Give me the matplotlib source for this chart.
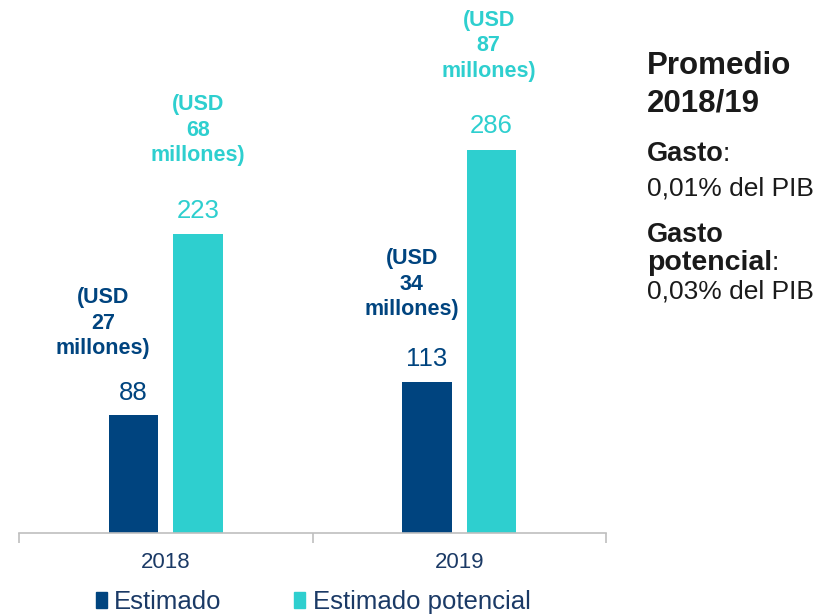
import matplotlib
matplotlib.use("Agg")
import matplotlib.pyplot as plt
from matplotlib.patches import Patch

plt.rcParams['font.family'] = ['Liberation Sans', 'DejaVu Sans']

years = ["2018", "2019"]
estimado = [88, 113]
potencial = [223, 286]
usd_estimado = [27, 34]
usd_potencial = [68, 87]
series_names = ["Estimado", "Estimado potencial"]

c_dark = "#00447F"
c_cyan = "#2ECFCF"
c_text = "#1B3A66"

fig = plt.figure(figsize=(8.25, 6.14), dpi=100)
ax = fig.add_axes([19/825, 1-533/614, (606-19)/825, 509/614])
ax.set_xlim(-0.5, 1.5)
ax.set_ylim(0, 380)

x = list(range(len(years)))
w = 0.17
off = 0.11
xe = [i - off for i in x]
xp = [i + off for i in x]
ax.bar(xe, estimado, width=w, color=c_dark)
ax.bar(xp, potencial, width=w, color=c_cyan)

# value labels
for xi, v in zip(xe, estimado):
    ax.annotate(str(v), xy=(xi, v), xytext=(0, 16), textcoords='offset points',
                ha='center', va='center', fontsize=18.5, color=c_dark)
for xi, v in zip(xp, potencial):
    ax.annotate(str(v), xy=(xi, v), xytext=(0, 17), textcoords='offset points',
                ha='center', va='center', fontsize=18.5, color=c_cyan)

# USD labels
shift_e = [(-22, 66), (-11, 70)]
shift_p = [(0, 75), (-2, 75)]
for xi, v, u, s in zip(xe, estimado, usd_estimado, shift_e):
    ax.annotate(f"(USD\n{u}\nmillones)", xy=(xi, v), xytext=s, textcoords='offset points',
                ha='center', va='center', fontsize=15.5, fontweight='bold', color=c_dark,
                linespacing=1.28)
for xi, v, u, s in zip(xp, potencial, usd_potencial, shift_p):
    ax.annotate(f"(USD\n{u}\nmillones)", xy=(xi, v), xytext=s, textcoords='offset points',
                ha='center', va='center', fontsize=15.5, fontweight='bold', color=c_cyan,
                linespacing=1.28)

for sp in ['top', 'right', 'left']:
    ax.spines[sp].set_visible(False)
ax.spines['bottom'].set_color('#BFBFBF')
ax.spines['bottom'].set_linewidth(1.2)
ax.set_yticks([])
ax.set_xticks(x)
ax.set_xticklabels(years, fontsize=16, color=c_text)
ax.tick_params(axis='x', which='major', length=0, pad=14)
ax.set_xticks([-0.5, 0.5, 1.5], minor=True)
ax.tick_params(axis='x', which='minor', length=7, width=1.2, color='#BFBFBF', direction='out')

# legend
handles = [Patch(color=c_dark), Patch(color=c_cyan)]
fig.legend(handles, series_names, loc='center', bbox_to_anchor=(313/825, 1-602/614),
           ncol=2, frameon=False, fontsize=18.5, handlelength=0.43, handleheight=0.55,
           handletextpad=0.3, columnspacing=2.8, labelcolor=c_text,
           borderpad=0, borderaxespad=0)

# right panel
tc = "#1A1A1A"
px = 647/825
fig.text(px, 1-74/614, "Promedio", fontsize=22.5, fontweight='bold',
         color=tc, va='baseline', ha='left')
fig.text(px, 1-112/614, "2018/19", fontsize=22.5, fontweight='bold',
         color=tc, va='baseline', ha='left')
t1 = fig.text(px, 1-161/614, "Gasto", fontsize=19.5, fontweight='bold', color=tc,
              va='baseline', ha='left')
fig.text(px, 1-196/614, "0,01% del PIB", fontsize=19, color=tc, va='baseline', ha='left')
fig.text(px, 1-242/614, "Gasto", fontsize=19.5, fontweight='bold', color=tc,
         va='baseline', ha='left')
t2 = fig.text(px, 1-270/614, "potencial", fontsize=20.5, fontweight='bold', color=tc,
              va='baseline', ha='left')
fig.text(px, 1-298/614, "0,03% del PIB", fontsize=19, color=tc, va='baseline', ha='left')
fig.canvas.draw()
for t in (t1, t2):
    bb = t.get_window_extent()
    fig.text((bb.x1 - 1) / fig.bbox.width, t.get_position()[1], ":", fontsize=19, color=tc,
             va='baseline', ha='left')

fig.savefig("out.png", dpi=100)
